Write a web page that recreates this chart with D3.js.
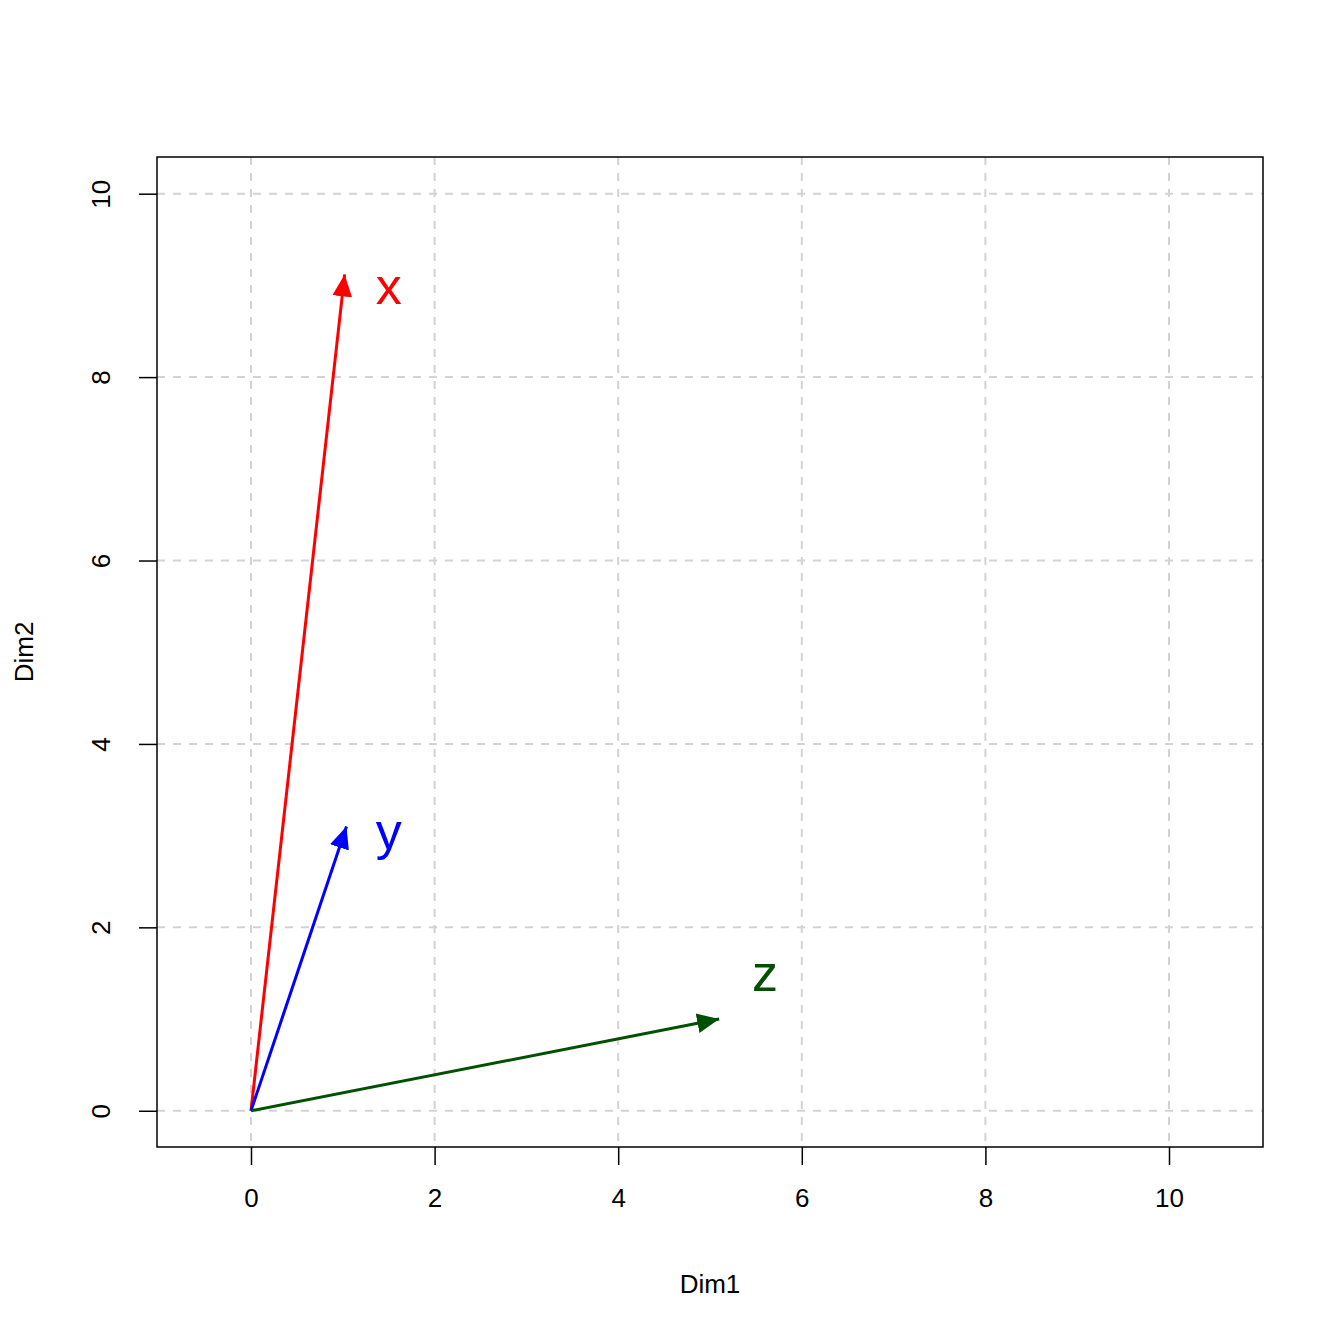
<!DOCTYPE html>
<html><head><meta charset="utf-8">
<script src="https://cdn.jsdelivr.net/npm/d3@7"></script>
<style>body{margin:0;background:#fff}</style></head>
<body><svg id="c" width="1344" height="1344"></svg>
<script>
const names = ["x","y","z"];
const dim1 = [1.02, 1.04, 5.1];
const dim2 = [9.12, 3.1, 1.0];
const labelX = [1.5, 1.5, 5.6];
const labelY = [9.0, 3.05, 1.5];
const colors = ["#ff0000","#0000ff","#005000"];
const ticks = [0,2,4,6,8,10];

const svg = d3.select("#c");
const font = "Liberation Sans, Arial, sans-serif";
const xs = d3.scaleLinear().domain([-1.024, 11.024]).range([157, 1263]);
const ys = d3.scaleLinear().domain([-0.395, 10.4]).range([1147, 157]);

const defs = svg.append("defs");
colors.forEach((c,i)=>{
  defs.append("marker").attr("id","m"+i).attr("viewBox","0 0 10 10")
    .attr("refX",10).attr("refY",5)
    .attr("markerUnits","userSpaceOnUse").attr("orient","auto")
    .attr("markerWidth",22).attr("markerHeight",22)
    .append("path").attr("d","M0,0.5 L10,5 L0,9.5 Z").attr("fill",c);
});

ticks.forEach(t=>{
  svg.append("line").attr("x1",xs(t)).attr("x2",xs(t)).attr("y1",157).attr("y2",1147)
    .attr("stroke","#d3d3d3").attr("stroke-width",2).attr("stroke-dasharray","8,8");
  svg.append("line").attr("y1",ys(t)).attr("y2",ys(t)).attr("x1",157).attr("x2",1263)
    .attr("stroke","#d3d3d3").attr("stroke-width",2).attr("stroke-dasharray","8,8");
});

const ax = svg.append("g").attr("transform","translate(0,1147)")
  .call(d3.axisBottom(xs).tickValues(ticks).tickSize(18).tickPadding(24));
const ay = svg.append("g").attr("transform","translate(157,0)")
  .call(d3.axisLeft(ys).tickValues(ticks).tickSize(18));
[ax,ay].forEach(a=>{
  a.select(".domain").remove();
  a.selectAll("line").attr("stroke","#000").attr("stroke-width",1.5);
  a.selectAll("text").attr("font-family",font).attr("font-size",26).attr("fill","#000");
});
ay.selectAll("text").attr("x",0).attr("y",0).attr("dy","0.35em").attr("text-anchor","middle")
  .attr("transform","translate(-56,0) rotate(-90)");

svg.append("rect").attr("x",157).attr("y",157).attr("width",1106).attr("height",990)
  .attr("fill","none").attr("stroke","#000").attr("stroke-width",1.5);

svg.append("text").attr("x",710).attr("y",1293).attr("text-anchor","middle")
  .attr("font-family",font).attr("font-size",26).text("Dim1");
svg.append("text").attr("transform","translate(33,652) rotate(-90)").attr("text-anchor","middle")
  .attr("font-family",font).attr("font-size",26).text("Dim2");

names.forEach((n,i)=>{
  svg.append("line").attr("x1",xs(0)).attr("y1",ys(0)).attr("x2",xs(dim1[i])).attr("y2",ys(dim2[i]))
    .attr("stroke",colors[i]).attr("stroke-width",3).attr("marker-end",`url(#m${i})`);
  svg.append("text").attr("x",xs(labelX[i])).attr("y",ys(labelY[i])).attr("dy","0.35em")
    .attr("text-anchor","middle").attr("font-family",font).attr("font-size",52)
    .attr("fill",colors[i]).text(n);
});
</script></body></html>
